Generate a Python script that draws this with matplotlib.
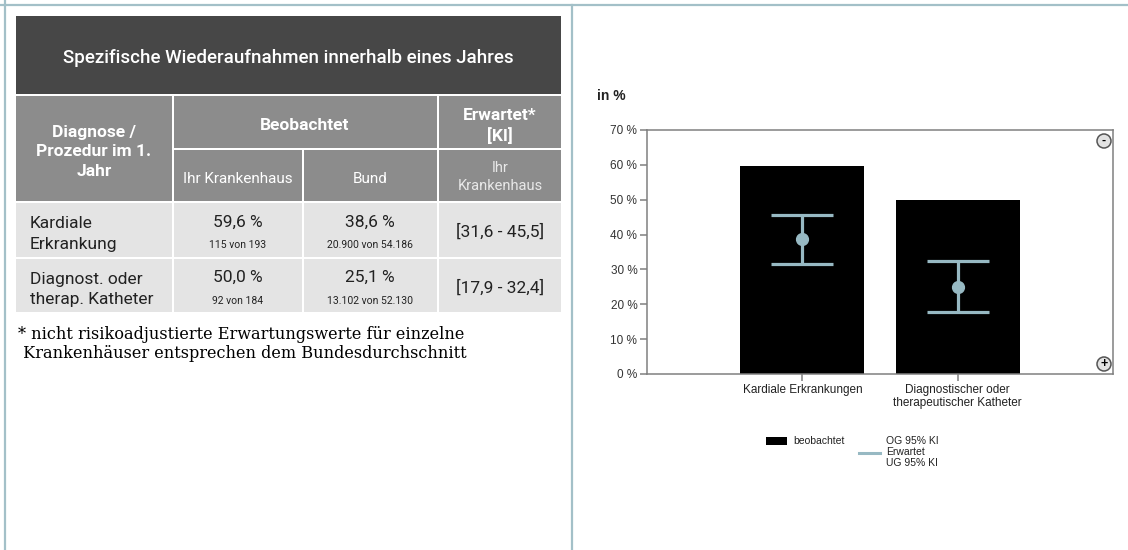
import matplotlib.pyplot as plt
from matplotlib.patches import Rectangle, Circle

# Diagramm-Daten
categories = ["Kardiale Erkrankungen", "Diagnostischer oder\ntherapeutischer Katheter"]
observed = [59.6, 50.0]
expected = [38.6, 25.1]
ci_low = [31.6, 17.9]
ci_high = [45.5, 32.4]
yticks = [0, 10, 20, 30, 40, 50, 60, 70]

# Tabellen-Daten
table_title = "Spezifische Wiederaufnahmen innerhalb eines Jahres"
row_labels = ["Kardiale\nErkrankung", "Diagnost. oder\ntherap. Katheter"]
hospital_counts = ["115 von 193", "92 von 184"]
federal_pct = [38.6, 25.1]
federal_counts = ["20.900 von 54.186", "13.102 von 52.130"]
footnote = ("* nicht risikoadjustierte Erwartungswerte für einzelne\n"
            " Krankenhäuser entsprechen dem Bundesdurchschnitt")

BORDER = "#a3c0c8"
BLUE = "#97b9c3"
HEAD = "#8c8c8c"
ROW = "#e4e4e4"
NARROW = ["Roboto", "DejaVu Sans"]
SANS = ["Roboto", "DejaVu Sans"]
ARIAL = ["Liberation Sans", "DejaVu Sans"]


def pct(v):
    return f"{v:.1f}".replace(".", ",") + " %"


fig = plt.figure(figsize=(11.28, 5.5), dpi=100)

# Hintergrund-Achse in Pixelkoordinaten
bg = fig.add_axes([0, 0, 1, 1], zorder=0)
bg.set_xlim(0, 1128)
bg.set_ylim(550, 0)
bg.axis("off")

# Rahmenlinien
bg.plot([0, 1128], [5, 5], color=BORDER, lw=1.6)
bg.plot([5, 5], [0, 550], color=BORDER, lw=1.6)
bg.plot([572, 572], [5, 550], color=BORDER, lw=1.6)


def cell(x0, x1, y0, y1, color):
    bg.add_patch(Rectangle((x0, y0), x1 - x0, y1 - y0, facecolor=color, edgecolor="none"))


# Titel
cell(16, 561, 16, 94, "#474747")
bg.text(288, 58, table_title, color="white", ha="center", va="center",
        fontsize=13.5, family=NARROW, fontweight="medium")

# Kopfzeilen
cell(16, 172, 96, 201, HEAD)
cell(174, 437, 96, 148, HEAD)
cell(439, 561, 96, 148, HEAD)
cell(174, 302, 150, 201, HEAD)
cell(304, 437, 150, 201, HEAD)
cell(439, 561, 150, 201, HEAD)
bg.text(94, 152, "Diagnose /\nProzedur im 1.\nJahr", color="white", ha="center", va="center",
        fontsize=12.5, fontweight="bold", family=NARROW, linespacing=1.37)
bg.text(305, 126, "Beobachtet", color="white", ha="center", va="center",
        fontsize=12.5, fontweight="bold", family=NARROW)
bg.text(500, 126, "Erwartet*\n[KI]", color="white", ha="center", va="center",
        fontsize=12.5, fontweight="bold", family=NARROW, linespacing=1.33)
bg.text(238, 179, "Ihr Krankenhaus", color="white", ha="center", va="center",
        fontsize=11, family=NARROW)
bg.text(370, 179, "Bund", color="white", ha="center", va="center",
        fontsize=11, family=NARROW)
bg.text(500, 177, "Ihr\nKrankenhaus", color="#e8e8e8", ha="center", va="center",
        fontsize=10.5, family=NARROW, linespacing=1.36)

# Datenzeilen
row_tops = [203, 259]
row_bottoms = [257, 312]
for i in range(len(row_labels)):
    y0, y1 = row_tops[i], row_bottoms[i]
    ym = (y0 + y1) / 2
    cell(16, 172, y0, y1, ROW)
    cell(174, 302, y0, y1, ROW)
    cell(304, 437, y0, y1, ROW)
    cell(439, 561, y0, y1, ROW)
    bg.text(30, ym + 4, row_labels[i], color="#222222", ha="left", va="center",
            fontsize=12.5, family=SANS, linespacing=1.42)
    bg.text(238, ym - 8, pct(observed[i]), color="#222222", ha="center", va="center",
            fontsize=12.5, family=SANS)
    bg.text(238, ym + 15, hospital_counts[i], color="#222222", ha="center", va="center",
            fontsize=7.5, family=SANS)
    bg.text(370, ym - 8, pct(federal_pct[i]), color="#222222", ha="center", va="center",
            fontsize=12.5, family=SANS)
    bg.text(370, ym + 15, federal_counts[i], color="#222222", ha="center", va="center",
            fontsize=7.5, family=SANS)
    ci = f"[{ci_low[i]:.1f} - {ci_high[i]:.1f}]".replace(".", ",")
    bg.text(500, ym + 2, ci, color="#222222", ha="center", va="center",
            fontsize=12.5, family=SANS)

bg.text(18, 344, footnote, color="black", ha="left", va="center",
        fontsize=11.6, family=["DejaVu Serif"], linespacing=1.22)

# Diagramm
bg.text(597, 96, "in %", ha="left", va="center", fontsize=10, fontweight="bold",
        family=ARIAL, color="#222222")

ax = fig.add_axes([647 / 1128, 1 - 374 / 550, 466 / 1128, 244 / 550], zorder=1)
ax.patch.set_alpha(0)
x = list(range(len(categories)))
ax.bar(x, observed, width=0.8, color="black", zorder=2)
yerr = [[e - lo for e, lo in zip(expected, ci_low)],
        [hi - e for e, hi in zip(expected, ci_high)]]
ax.errorbar(x, expected, yerr=yerr, fmt="o", color=BLUE, ecolor=BLUE,
            elinewidth=2.3, capsize=22, capthick=2.3, markersize=8.5, zorder=3)
ax.set_xlim(-1, 2)
ax.set_ylim(0, 70)
ax.set_yticks(yticks)
ax.set_yticklabels([f"{t} %" for t in yticks], family=ARIAL, fontsize=8.5, color="#333333")
ax.set_xticks(x)
ax.set_xticklabels(categories, family=ARIAL, fontsize=8.5, color="#222222", linespacing=1.1)
ax.tick_params(axis="both", direction="out", length=5, width=1.1, color="#808080", pad=2)
for s in ax.spines.values():
    s.set_color("#808080")
    s.set_linewidth(1.1)

# Zoom-Knöpfe
for (cx, cy, sym) in [(1104, 141, "-"), (1104, 364, "+")]:
    bg.add_patch(Circle((cx, cy), 7, facecolor="#e2e2e2", edgecolor="#555555", lw=1.1, zorder=5))
    bg.text(cx, cy, sym, ha="center", va="center", fontsize=9, fontweight="bold",
            color="black", zorder=6, family=ARIAL)
bg.set_zorder(2)
bg.patch.set_alpha(0)

# Legende
bg.add_patch(Rectangle((766, 437), 21, 8, facecolor="black", edgecolor="none"))
bg.text(793, 441, "beobachtet", ha="left", va="center", fontsize=7.5, family=ARIAL, color="#222222")
bg.plot([859, 880], [453, 453], color=BLUE, lw=2.2)
bg.text(886, 452, "OG 95% KI\nErwartet\nUG 95% KI", ha="left", va="center", fontsize=7.5,
        family=ARIAL, color="#222222", linespacing=1.1)

fig.savefig("out.png", dpi=100, facecolor="white")
